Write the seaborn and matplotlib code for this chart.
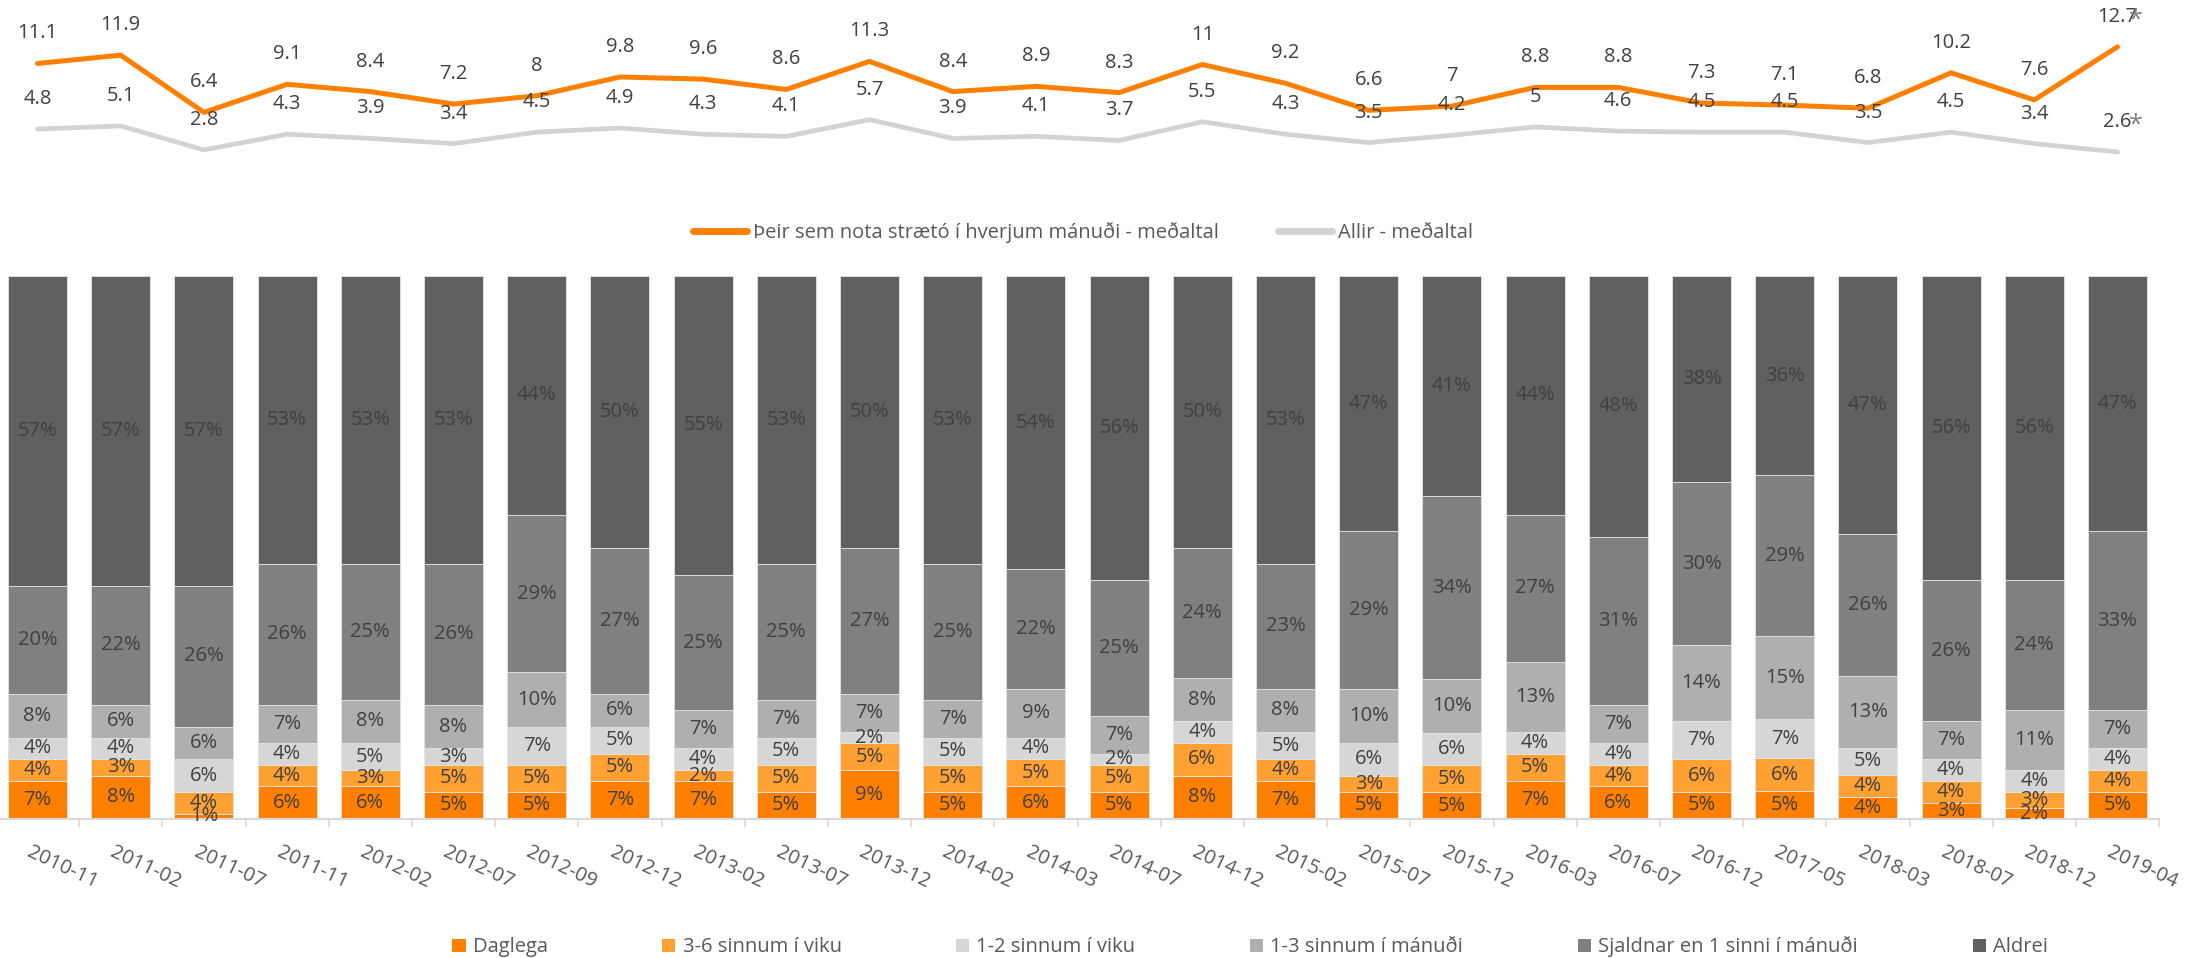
import matplotlib
matplotlib.use("Agg")
import matplotlib.pyplot as plt
import matplotlib.transforms as mtransforms
from matplotlib.lines import Line2D
from matplotlib.patches import Patch
import numpy as np
import pandas as pd
import seaborn as sns

# data
periods = ["2010-11", "2011-02", "2011-07", "2011-11", "2012-02", "2012-07", "2012-09",
           "2012-12", "2013-02", "2013-07", "2013-12", "2014-02", "2014-03", "2014-07",
           "2014-12", "2015-02", "2015-07", "2015-12", "2016-03", "2016-07", "2016-12",
           "2017-05", "2018-03", "2018-07", "2018-12", "2019-04"]

users_avg = [11.1, 11.9, 6.4, 9.1, 8.4, 7.2, 8, 9.8, 9.6, 8.6, 11.3, 8.4, 8.9, 8.3,
             11, 9.2, 6.6, 7, 8.8, 8.8, 7.3, 7.1, 6.8, 10.2, 7.6, 12.7]
all_avg = [4.8, 5.1, 2.8, 4.3, 3.9, 3.4, 4.5, 4.9, 4.3, 4.1, 5.7, 3.9, 4.1, 3.7,
           5.5, 4.3, 3.5, 4.2, 5, 4.6, 4.5, 4.5, 3.5, 4.5, 3.4, 2.6]

categories = ["Daglega", "3-6 sinnum í viku", "1-2 sinnum í viku",
              "1-3 sinnum í mánuði", "Sjaldnar en 1 sinni í mánuði", "Aldrei"]
daglega = [7, 8, 1, 6, 6, 5, 5, 7, 7, 5, 9, 5, 6, 5, 8, 7, 5, 5, 7, 6, 5, 5, 4, 3, 2, 5]
vika_3_6 = [4, 3, 4, 4, 3, 5, 5, 5, 2, 5, 5, 5, 5, 5, 6, 4, 3, 5, 5, 4, 6, 6, 4, 4, 3, 4]
vika_1_2 = [4, 4, 6, 4, 5, 3, 7, 5, 4, 5, 2, 5, 4, 2, 4, 5, 6, 6, 4, 4, 7, 7, 5, 4, 4, 4]
manudur_1_3 = [8, 6, 6, 7, 8, 8, 10, 6, 7, 7, 7, 7, 9, 7, 8, 8, 10, 10, 13, 7, 14, 15, 13, 7, 11, 7]
sjaldnar = [20, 22, 26, 26, 25, 26, 29, 27, 25, 25, 27, 25, 22, 25, 24, 23, 29, 34, 27, 31, 30, 29, 26, 26, 24, 33]
aldrei = [57, 57, 57, 53, 53, 53, 44, 50, 55, 53, 50, 53, 54, 56, 50, 53, 47, 41, 44, 48, 38, 36, 47, 56, 56, 47]

colors = ["#FF8000", "#FFA033", "#D6D6D6", "#AFAFAF", "#808080", "#606060"]

df = pd.DataFrame(dict(zip(categories, [daglega, vika_3_6, vika_1_2, manudur_1_3, sjaldnar, aldrei])),
                  index=periods)
shares = df.div(df.sum(axis=1), axis=0)  # 100% stacked

sns.set_theme(style="white")
plt.rcParams["font.family"] = ["Open Sans", "DejaVu Sans"]

W, H = 2208, 958
fig = plt.figure(figsize=(W / 100, H / 100), dpi=100)

x = np.arange(len(periods))
left_px, right_px = -4.1, 2159.1
txt_col = "#404040"
fs = 14.5

# stacked bars
ax = fig.add_axes([left_px / W, 1 - 819 / H, (right_px - left_px) / W, (819 - 276) / H])
bottom = np.zeros(len(periods))
for cat, col in zip(categories, colors):
    vals = shares[cat].values
    ax.bar(x, vals, bottom=bottom, width=0.71, color=col, edgecolor="#E4E4E4", linewidth=0.6)
    for xi, b, v, lab in zip(x, bottom, vals, df[cat].values):
        ax.text(xi, b + v / 2, f"{lab}%", ha="center", va="center", fontsize=fs, color=txt_col)
    bottom += vals
ax.set_xlim(-0.5, len(periods) - 0.5)
ax.set_ylim(0, 1)
ax.set_yticks([])
for s in ["top", "right", "left"]:
    ax.spines[s].set_visible(False)
ax.spines["bottom"].set_color("#D9D9D9")
ax.spines["bottom"].set_linewidth(1.5)
ax.set_xticks(x)
ax.set_xticks(np.arange(-0.5, len(periods), 1), minor=True)
ax.tick_params(axis="x", which="major", length=0, pad=17)
ax.tick_params(axis="x", which="minor", length=6, width=1.2, color="#D9D9D9", bottom=True)
ax.set_xticklabels(periods, rotation=-25, ha="left", va="top", rotation_mode="anchor",
                   fontsize=fs, color="#595959")
offset = mtransforms.ScaledTranslation(-5 / 100, 0, fig.dpi_scale_trans)
for lbl in ax.get_xticklabels():
    lbl.set_transform(lbl.get_transform() + offset)

# line chart on top
lax = fig.add_axes([left_px / W, 1 - 179 / H, (right_px - left_px) / W, 179 / H])
line_df = pd.DataFrame({"x": x, "users": users_avg, "all": all_avg})
sns.lineplot(data=line_df, x="x", y="all", ax=lax, color="#D3D3D3", linewidth=3.4)
sns.lineplot(data=line_df, x="x", y="users", ax=lax, color="#FF8000", linewidth=3.6)
for series in [all_avg, users_avg]:
    for xi, v in zip(x, series):
        lax.annotate(f"{v:g}", (xi, v), xytext=(0, 30), textcoords="offset pixels",
                     ha="center", va="center", fontsize=fs, color=txt_col)
for v in [users_avg[-1], all_avg[-1]]:
    lax.annotate("*", (x[-1], v), xytext=(18, 27), textcoords="offset pixels",
                 ha="center", va="center", fontsize=18, color="#808080")
lax.set_xlim(-0.5, len(periods) - 0.5)
lax.set_ylim(0, 17.2)
lax.axis("off")

# legends
line_handles = [Line2D([], [], color="#FF8000", lw=5, solid_capstyle="round"),
                Line2D([], [], color="#D3D3D3", lw=5, solid_capstyle="round")]
fig.legend(line_handles, ["Þeir sem nota strætó í hverjum mánuði - meðaltal", "Allir - meðaltal"],
           loc="center", bbox_to_anchor=(1083 / W, 1 - 233 / H), ncol=2, frameon=False,
           fontsize=fs, labelcolor="#595959", handlelength=2.7, handletextpad=0.3,
           columnspacing=2.9)

bar_handles = [Patch(facecolor=c, edgecolor="none") for c in colors]
fig.legend(bar_handles, categories, loc="center", bbox_to_anchor=(1250 / W, 1 - 947 / H),
           ncol=6, frameon=False, fontsize=fs, labelcolor="#595959", handlelength=0.65,
           handleheight=0.65, handletextpad=0.35, columnspacing=5.7)

fig.savefig("out.png", dpi=100)
